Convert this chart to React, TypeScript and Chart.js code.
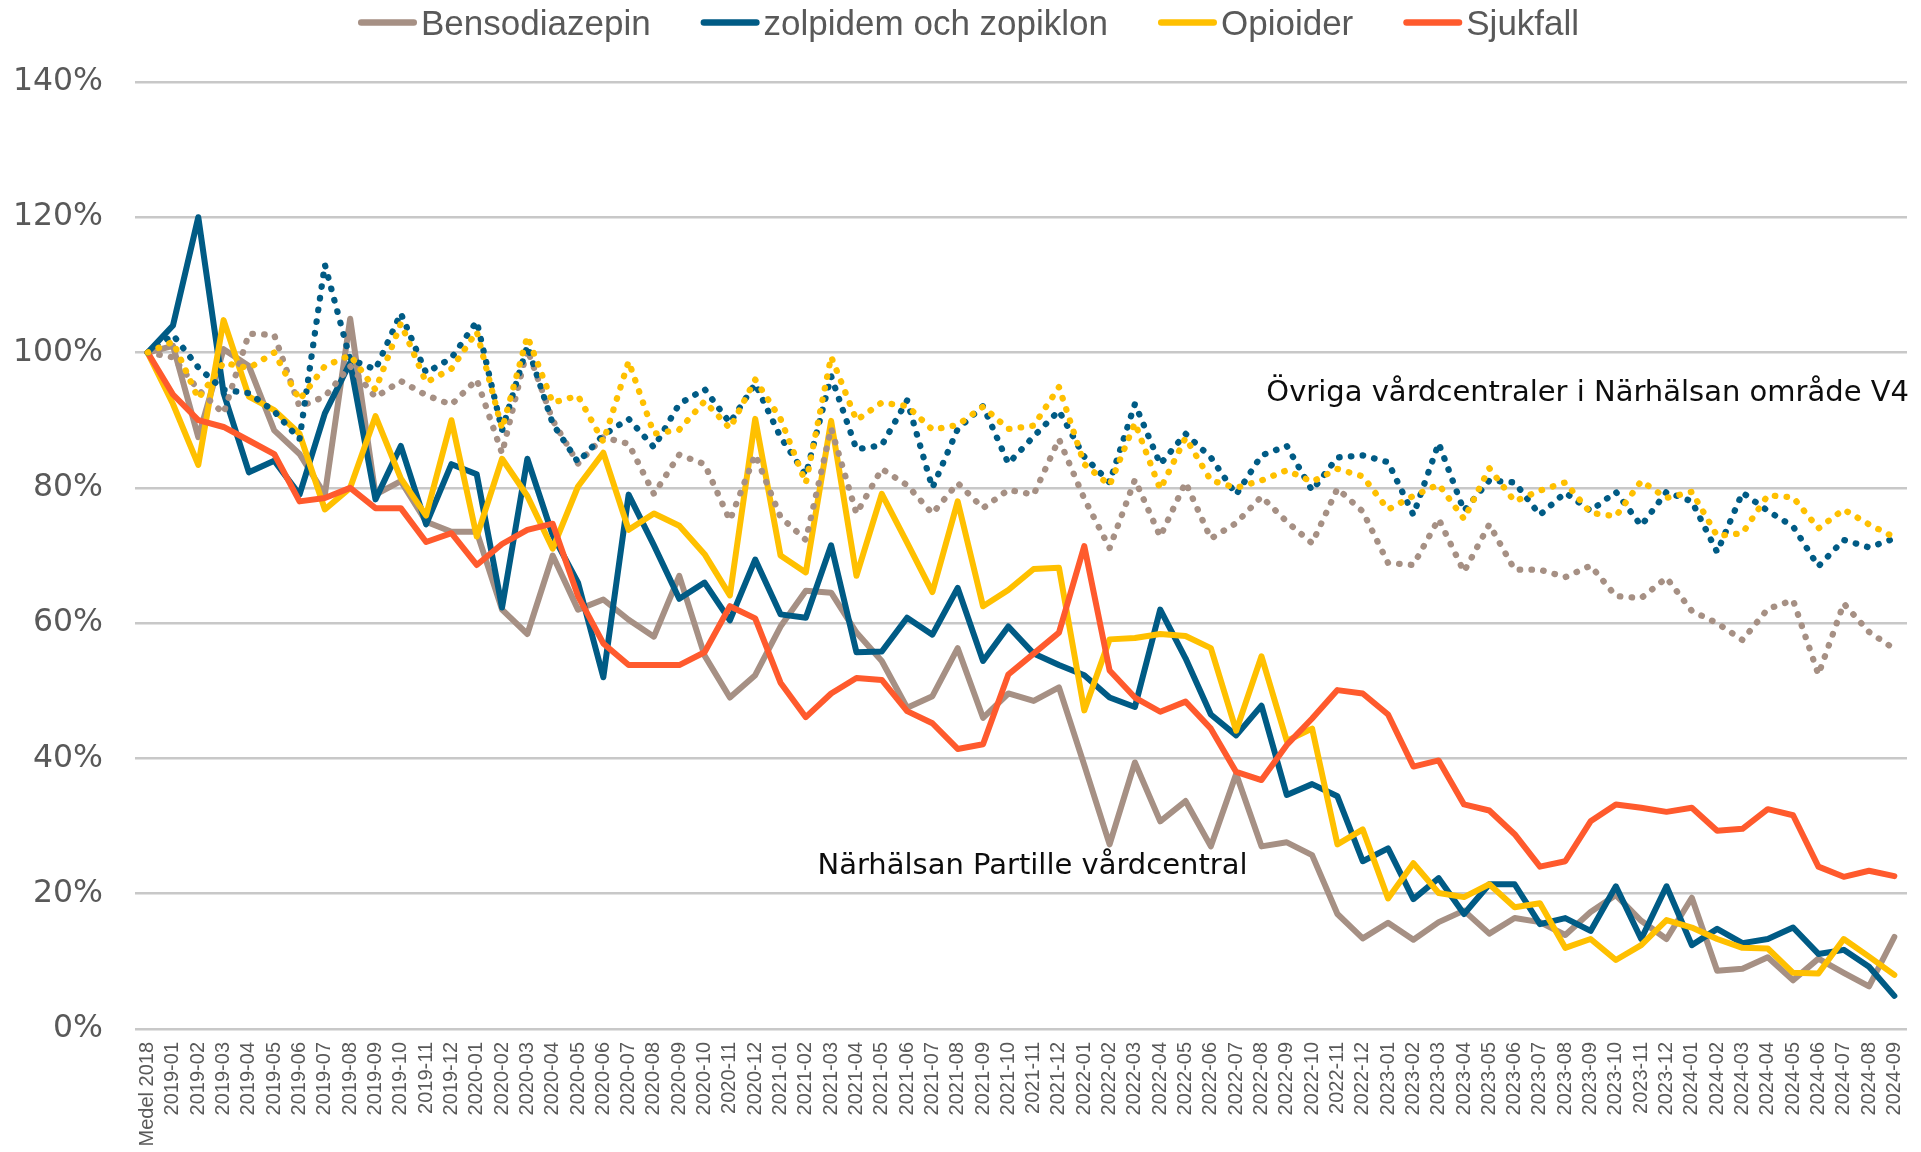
import React, { useEffect, useRef } from 'react';
import { Chart, registerables } from 'chart.js';

Chart.register(...registerables);

const labels: string[] = [
  'Medel 2018',
  '2019-01', '2019-02', '2019-03', '2019-04', '2019-05', '2019-06', '2019-07', '2019-08', '2019-09', '2019-10', '2019-11', '2019-12',
  '2020-01', '2020-02', '2020-03', '2020-04', '2020-05', '2020-06', '2020-07', '2020-08', '2020-09', '2020-10', '2020-11', '2020-12',
  '2021-01', '2021-02', '2021-03', '2021-04', '2021-05', '2021-06', '2021-07', '2021-08', '2021-09', '2021-10', '2021-11', '2021-12',
  '2022-01', '2022-02', '2022-03', '2022-04', '2022-05', '2022-06', '2022-07', '2022-08', '2022-09', '2022-10', '2022-11', '2022-12',
  '2023-01', '2023-02', '2023-03', '2023-04', '2023-05', '2023-06', '2023-07', '2023-08', '2023-09', '2023-10', '2023-11', '2023-12',
  '2024-01', '2024-02', '2024-03', '2024-04', '2024-05', '2024-06', '2024-07', '2024-08', '2024-09',
];

// Närhälsan Partille vårdcentral (solid lines)
const bensodiazepin: number[] = [
  100, 101, 87.5, 100.5, 98, 88.5, 85, 79, 105, 79,
  81, 75, 73.5, 73.5, 62, 58.4, 70, 62, 63.5, 60.5,
  58, 67, 55.2, 49, 52.3, 59.5, 64.8, 64.5, 58.6, 54.4,
  47.5, 49.2, 56.3, 46, 49.6, 48.5, 50.5, 39, 27.3, 39.4,
  30.7, 33.7, 27, 37.7, 27, 27.6, 25.7, 17, 13.4, 15.7,
  13.2, 15.8, 17.5, 14.1, 16.4, 15.8, 13.9, 17.3, 19.8, 16,
  13.3, 19.4, 8.6, 8.9, 10.6, 7.2, 10.4, 8.3, 6.3, 13.6,
];
const zolpidem: number[] = [
  100, 104, 120, 94, 82.3, 84, 79, 91, 98.5, 78.3,
  86.2, 74.6, 83.5, 82, 62.3, 84.3, 73, 66, 52, 79,
  71.5, 63.6, 66, 60.4, 69.4, 61.3, 60.8, 71.5, 55.7, 55.8,
  60.8, 58.3, 65.2, 54.4, 59.5, 55.5, 53.8, 52.3, 49, 47.6,
  62, 54.8, 46.5, 43.4, 47.8, 34.6, 36.2, 34.4, 24.8, 26.7,
  19.2, 22.3, 17, 21.4, 21.4, 15.5, 16.4, 14.5, 21.1, 13.3,
  21.1, 12.4, 14.8, 12.7, 13.3, 15, 11.1, 11.7, 9.2, 4.9,
];
const opioider: number[] = [
  100, 92.4, 83.4, 104.8, 93.5, 91.5, 88, 76.8, 80, 90.6,
  81.4, 75.9, 90, 72.8, 84.3, 78.8, 71, 80.2, 85.2, 73.8,
  76.2, 74.4, 70.2, 64.1, 90.2, 70, 67.5, 89.9, 67, 79.1,
  71.9, 64.6, 78, 62.5, 64.9, 68, 68.2, 47.1, 57.6, 57.8,
  58.4, 58.1, 56.3, 44.1, 55.1, 42.6, 44.4, 27.3, 29.5, 19.3,
  24.5, 20.1, 19.5, 21.4, 18, 18.6, 12, 13.3, 10.2, 12.4,
  16.1, 15, 13.3, 12, 11.9, 8.3, 8.2, 13.3, 10.7, 8,
];
const sjukfall: number[] = [
  100, 93.8, 90, 89, 87, 85, 78, 78.5, 80, 77,
  77, 72, 73.3, 68.6, 71.7, 73.8, 74.7, 64, 57, 53.8,
  53.8, 53.8, 55.7, 62.5, 60.7, 51.2, 46.1, 49.6, 51.9, 51.6,
  47, 45.2, 41.4, 42.1, 52.4, 55.5, 58.6, 71.4, 53, 49,
  46.9, 48.4, 44.4, 38, 36.8, 42, 45.9, 50.1, 49.6, 46.5,
  38.8, 39.7, 33.2, 32.3, 28.8, 24, 24.8, 30.7, 33.2, 32.7,
  32.1, 32.7, 29.3, 29.6, 32.5, 31.6, 24, 22.5, 23.4, 22.6,
];

// Övriga vårdcentraler i Närhälsan område V4 (dotted lines)
const ovrigaBensodiazepin: number[] = [
  100, 99.3, 94.5, 91, 102.8, 102.6, 92, 93.5, 98, 93.4,
  95.8, 93.7, 92.3, 96, 85.1, 100.5, 90, 83.6, 87.5, 86.5,
  79.1, 84.9, 83.5, 75.2, 84.9, 75.7, 72.3, 88.8, 76.2, 82.8,
  80.4, 76.2, 80.7, 77, 79.7, 79, 87.2, 78.4, 71.1, 81.2,
  72.8, 80.8, 72.5, 74.8, 78.7, 75, 71.8, 79.9, 76.5, 68.9,
  68.6, 75.4, 67.6, 74.6, 67.9, 67.9, 66.8, 68.5, 64, 63.7,
  66.7, 61.8, 60, 57.5, 62.1, 63.4, 52.4, 62.9, 58.7, 56.2,
];
const ovrigaZolpidem: number[] = [
  100, 102.6, 97.8, 94.5, 94, 91.3, 87.2, 113, 99, 97.5,
  105.8, 97, 99.2, 104.6, 88.5, 101, 89.5, 83.8, 87.8, 90.2,
  86, 92.4, 94.6, 89.6, 95.4, 87.5, 81.9, 96.5, 85.7, 86.3,
  92.9, 80, 88.7, 92.1, 83.6, 87.6, 91.4, 84.6, 80.8, 92.4,
  83.5, 88, 84.5, 79, 84.8, 86.2, 79.6, 84.5, 84.8, 83.8,
  76, 86.6, 76.6, 81.1, 80.8, 76, 79.3, 76.6, 79.4, 74.4,
  79.4, 78, 70.5, 79.3, 76.6, 74.3, 68.4, 72.3, 71.2, 72.5,
];
const ovrigaOpioider: number[] = [
  100, 101.6, 93.2, 98.5, 97.7, 100, 93, 98, 99.6, 94.5,
  104.3, 95.6, 97.6, 103.1, 88.7, 102.4, 92.6, 93.6, 86.8, 98.7,
  88, 88.6, 92.8, 88.8, 96, 90.2, 80.7, 99.4, 90, 92.6,
  92.1, 88.6, 89.3, 92, 88.7, 89.2, 94.9, 83.5, 80.4, 89.6,
  79.8, 87.4, 81.1, 80, 81.1, 82.6, 80.9, 82.8, 81.7, 76.8,
  78.8, 80.5, 75.4, 82.9, 78, 79.6, 80.8, 76.3, 75.8, 81,
  78.5, 79.4, 72.9, 73.3, 78.9, 78.6, 74, 76.8, 74.6, 72.7,
];

const yTicks: number[] = [0, 20, 40, 60, 80, 100, 120, 140];

const seriesNames: string[] = ['Bensodiazepin', 'zolpidem och zopiklon', 'Opioider', 'Sjukfall'];
const seriesColors: string[] = ['#A69084', '#005B85', '#FFC000', '#FF5A2D'];

const annotationOther = 'Övriga vårdcentraler i Närhälsan område V4';
const annotationLocal = 'Närhälsan Partille vårdcentral';

export default function App() {
  const canvasRef = useRef<HTMLCanvasElement>(null);

  useEffect(() => {
    document.body.style.margin = '0';
    document.body.style.overflow = 'hidden';
    const canvas = canvasRef.current;
    if (!canvas) return;

    const solid = (label: string, data: number[], color: string, order: number) => ({
      label,
      data,
      borderColor: color,
      backgroundColor: color,
      borderWidth: 6,
      pointRadius: 0,
      pointHoverRadius: 0,
      tension: 0,
      fill: false,
      borderCapStyle: 'round' as const,
      borderJoinStyle: 'round' as const,
      order,
    });
    const dotted = (label: string, data: number[], color: string, order: number) => ({
      ...solid(label, data, color, order),
      borderWidth: 6.3,
      borderDash: [0.5, 11.3],
    });

    const overlay = {
      id: 'overlay',
      afterDraw(chart: any) {
        const { ctx, chartArea, scales } = chart;
        ctx.save();
        // annotations
        ctx.fillStyle = '#0D0D0D';
        ctx.font = '29px "DejaVu Sans", Verdana, sans-serif';
        ctx.textBaseline = 'middle';
        ctx.textAlign = 'right';
        ctx.fillText(annotationOther, chartArea.right + 2, scales.y.getPixelForValue(93.9));
        ctx.textAlign = 'left';
        ctx.fillText(annotationLocal, scales.x.getPixelForValue(26.46), scales.y.getPixelForValue(24.1));

        // legend
        ctx.font = '35px "Liberation Sans", Arial, sans-serif';
        ctx.textBaseline = 'alphabetic';
        ctx.textAlign = 'left';
        let x = 358;
        const lineW = 59;
        seriesNames.forEach((name, i) => {
          ctx.strokeStyle = seriesColors[i];
          ctx.lineWidth = 6.5;
          ctx.lineCap = 'round';
          ctx.beginPath();
          ctx.moveTo(x + 3.25, 22.5);
          ctx.lineTo(x + lineW - 3.25, 22.5);
          ctx.stroke();
          ctx.fillStyle = '#595959';
          ctx.fillText(name, x + lineW + 4, 34.5);
          x += lineW + 4 + ctx.measureText(name).width + 50;
        });
        ctx.restore();
      },
    };

    const chart = new Chart(canvas, {
      type: 'line',
      data: {
        labels,
        datasets: [
          solid(seriesNames[0], bensodiazepin, seriesColors[0], 7),
          solid(seriesNames[1], zolpidem, seriesColors[1], 6),
          solid(seriesNames[2], opioider, seriesColors[2], 5),
          solid(seriesNames[3], sjukfall, seriesColors[3], 4),
          dotted('Övriga ' + seriesNames[0], ovrigaBensodiazepin, seriesColors[0], 3),
          dotted('Övriga ' + seriesNames[1], ovrigaZolpidem, seriesColors[1], 2),
          dotted('Övriga ' + seriesNames[2], ovrigaOpioider, seriesColors[2], 1),
        ] as any,
      },
      options: {
        responsive: false,
        animation: false,
        devicePixelRatio: 1,
        layout: { padding: { left: 0, right: 14, top: 82, bottom: 0 } },
        plugins: {
          legend: { display: false },
          tooltip: { enabled: false },
        },
        scales: {
          x: {
            offset: true,
            grid: { display: false, drawTicks: false },
            border: { display: false },
            ticks: {
              autoSkip: false,
              minRotation: 90,
              maxRotation: 90,
              padding: 13,
              color: '#595959',
              font: { family: '"Liberation Sans", Arial, sans-serif', size: 20 },
            },
            afterFit: (s: any) => {
              s.height = 123;
              s.paddingLeft = 0;
              s.paddingRight = 0;
            },
          },
          y: {
            min: yTicks[0],
            max: yTicks[yTicks.length - 1],
            grid: { color: '#C8C8C8', lineWidth: 2.5, drawTicks: false },
            border: { display: false },
            ticks: {
              stepSize: yTicks[1] - yTicks[0],
              padding: 32,
              color: '#595959',
              font: { family: '"DejaVu Sans", Verdana, sans-serif', size: 31.5 },
              callback: (v: any) => v + '%',
            },
            afterFit: (s: any) => {
              s.width = 135;
              s.paddingTop = 0;
              s.paddingBottom = 0;
            },
          },
        },
      } as any,
      plugins: [overlay],
    });

    return () => chart.destroy();
  }, []);

  return (
    <div style={{ width: 1921, height: 1152, position: 'relative', background: '#fff' }}>
      <canvas ref={canvasRef} width={1921} height={1152} style={{ display: 'block' }} />
    </div>
  );
}
